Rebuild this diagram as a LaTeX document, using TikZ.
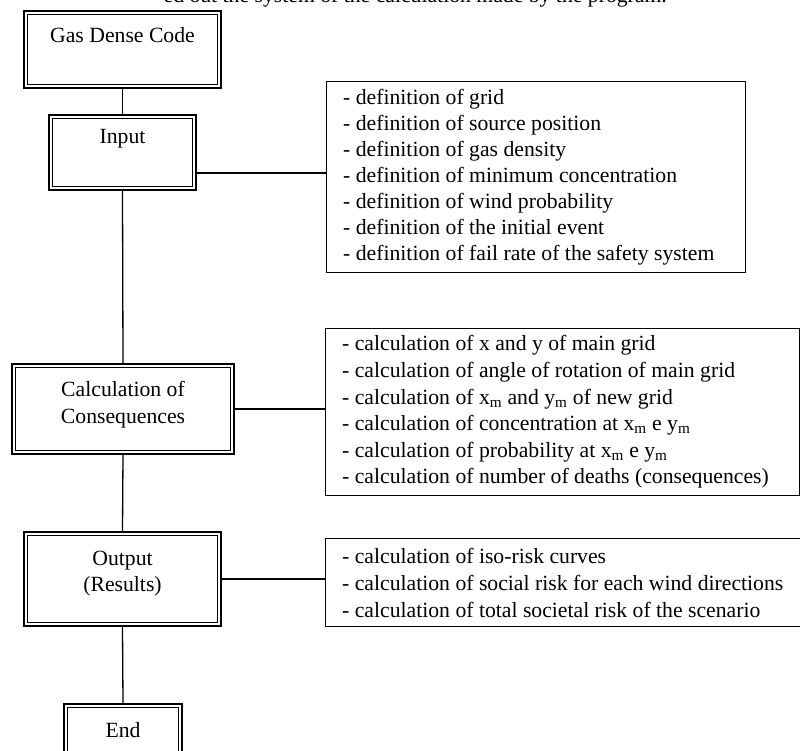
\documentclass[tikz,border=0pt]{standalone}
\usepackage{fontspec}
\setmainfont{Liberation Serif}
\begin{document}
\begin{tikzpicture}[x=1pt,y=-1pt,
  dbox/.style={draw=black, line width=1.6pt, double=white, double distance=2pt, outer sep=2.8pt, inner sep=0pt},
  lbl/.style={inner sep=0pt, align=center, font=\fontsize{21.7}{26.5}\selectfont},
  listbox/.style={draw=black, line width=1.3pt, anchor=north west, inner sep=0pt},
  listtext/.style={inner sep=0pt, anchor=west, align=left, font=\fontsize{21.7}{26.1}\selectfont},
  conn/.style={draw=black, line width=1.3pt}]
\useasboundingbox (0,0) rectangle (800,751);
\clip (0,0) rectangle (800,751);
% top caption (cut)
\node[lbl, anchor=base east] (cap) at (667,3) {ed out the system of the calculation made by the program.};
% main boxes
\node[dbox, minimum width=193.4pt, minimum height=73.4pt] (gas) at (122.5,49.5) {};
\node[lbl] (gast) at (122.5,35) {Gas Dense Code};
\node[dbox, minimum width=143.4pt, minimum height=71.4pt] (inp) at (122.5,152.5) {};
\node[lbl] (inpt) at (122.5,139) {Input};
\node[dbox, minimum width=218.4pt, minimum height=86.4pt] (calc) at (123,409) {};
\node[lbl] (calct) at (123,404.5) {Calculation of\\Consequences};
\node[dbox, minimum width=193.4pt, minimum height=90.4pt] (out) at (122.5,579) {};
\node[lbl] (outt) at (122.5,573.5) {Output\\(Results)};
\node[dbox, minimum width=114.4pt, minimum height=61.4pt] (end) at (123,736.5) {};
\node[lbl] (endt) at (123,730) {End};
% list boxes
\node[listbox, minimum width=419pt, minimum height=191pt] (l1) at (326,81) {};
\node[listtext] (l1t) at ([xshift=17pt]l1.west) {%
- definition of grid\\
- definition of source position\\
- definition of gas density\\
- definition of minimum concentration\\
- definition of wind probability\\
- definition of the initial event\\
- definition of fail rate of the safety system};
\node[listbox, minimum width=473.5pt, minimum height=167pt] (l2) at (325,328) {};
\node[listtext, font=\fontsize{21.7}{26.6}\selectfont] (l2t) at ([xshift=17pt]l2.west) {%
- calculation of x and y of main grid\\
- calculation of angle of rotation of main grid\\
- calculation of x\textsubscript{m} and y\textsubscript{m} of new grid\\
- calculation of concentration at x\textsubscript{m} e y\textsubscript{m}\\
- calculation of probability at x\textsubscript{m} e y\textsubscript{m}\\
- calculation of number of deaths (consequences)};
\node[listbox, minimum width=480pt, minimum height=88pt] (l3) at (325,538) {};
\node[listtext, font=\fontsize{21.7}{27}\selectfont] (l3t) at ([xshift=17pt]l3.west) {%
- calculation of iso-risk curves\\
- calculation of social risk for each wind directions\\
- calculation of total societal risk of the scenario};
% connectors
\draw[conn] (gas.south) -- (inp.north);
\draw[conn] (inp.south) -- (calc.north);
\draw[conn] (calc.south) -- (out.north);
\draw[conn] (out.south) -- (end.north);
\draw[conn] (inp.east |- 0,173) -- (l1.west |- 0,173);
\draw[conn] (calc.east) -- (calc.east -| l2.west);
\draw[conn] (out.east) -- (out.east -| l3.west);
\end{tikzpicture}
\end{document}
